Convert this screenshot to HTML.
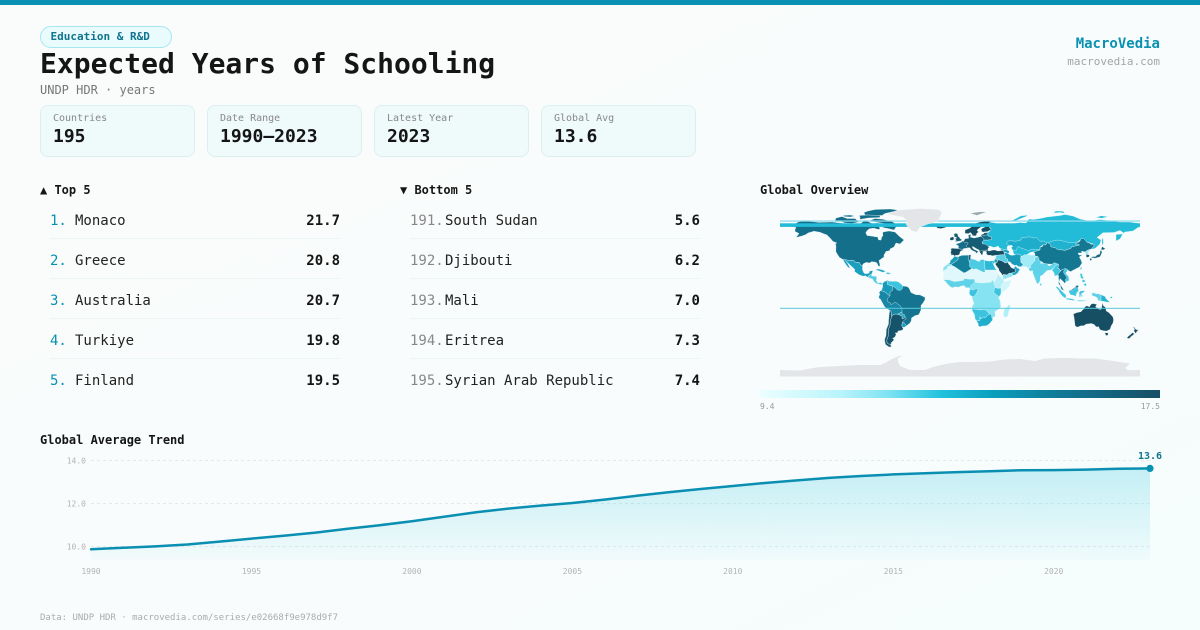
<!DOCTYPE html>
<html><head><meta charset="utf-8">
<style>
*{margin:0;padding:0;box-sizing:border-box}
html,body{width:1200px;height:630px;overflow:hidden}
body{position:relative;background:linear-gradient(155deg,#fafcfc 0%,#f9fcfc 55%,#f5fdfd 100%);font-family:"DejaVu Sans Mono","Liberation Mono",monospace;color:#111}
.a{position:absolute;line-height:1;white-space:pre}
.bar{position:absolute;left:0;top:0;width:1200px;height:5px;background:#0891b2}
.badge{position:absolute;left:40px;top:26px;width:132px;height:22px;border:1px solid #a5e6f1;background:#e9fbfd;border-radius:11px;font-size:11px;font-weight:bold;color:#0e7490;line-height:20px;padding-left:9.5px;white-space:pre}
.card{position:absolute;top:105px;width:155px;height:52px;background:#effafa;border:1px solid #dcefef;border-radius:8px}
.cl{position:absolute;left:12px;top:8.2px;font-size:10px;line-height:1;color:#888;white-space:pre}
.cv{position:absolute;left:12px;top:21.5px;font-size:18px;line-height:1;font-weight:bold;color:#151515;white-space:pre}
.h{font-size:12px;font-weight:bold;color:#151515}
.r{font-size:14px}
.rk{color:#0891b2}
.rg{color:#888}
.nm{color:#222}
.v{font-weight:bold;color:#151515;text-align:right}
.sep{position:absolute;height:1px;background:#edf4f4}
</style></head><body>
<div class="bar"></div>
<div class="badge">Education &amp; R&amp;D</div>
<div class="a" style="left:40px;top:50.3px;font-size:28px;font-weight:bold;color:#151515">Expected Years of Schooling</div>
<div class="a" style="left:40px;top:83.5px;font-size:12px;color:#777">UNDP HDR · years</div>
<div class="a" style="right:40px;top:36.5px;font-size:14px;font-weight:bold;color:#0891b2">MacroVedia</div>
<div class="a" style="right:40px;top:56.4px;font-size:11px;color:#a5a5a5">macrovedia.com</div>

<div class="card" style="left:40px"><div class="cl">Countries</div><div class="cv">195</div></div>
<div class="card" style="left:207px"><div class="cl">Date Range</div><div class="cv">1990–2023</div></div>
<div class="card" style="left:374px"><div class="cl">Latest Year</div><div class="cv">2023</div></div>
<div class="card" style="left:541px"><div class="cl">Global Avg</div><div class="cv">13.6</div></div>

<div class="a h" style="left:40px;top:184.1px">▲ Top 5</div>
<div class="a h" style="left:400px;top:184.1px">▼ Bottom 5</div>
<div class="a h" style="left:760px;top:184.1px">Global Overview</div>

<div class="a r rk" style="left:50px;top:214.2px">1.</div><div class="a r nm" style="left:75px;top:214.2px">Monaco</div><div class="a r v" style="right:860px;top:214.2px">21.7</div>
<div class="a r rk" style="left:50px;top:254.2px">2.</div><div class="a r nm" style="left:75px;top:254.2px">Greece</div><div class="a r v" style="right:860px;top:254.2px">20.8</div>
<div class="a r rk" style="left:50px;top:294.2px">3.</div><div class="a r nm" style="left:75px;top:294.2px">Australia</div><div class="a r v" style="right:860px;top:294.2px">20.7</div>
<div class="a r rk" style="left:50px;top:334.2px">4.</div><div class="a r nm" style="left:75px;top:334.2px">Turkiye</div><div class="a r v" style="right:860px;top:334.2px">19.8</div>
<div class="a r rk" style="left:50px;top:374.2px">5.</div><div class="a r nm" style="left:75px;top:374.2px">Finland</div><div class="a r v" style="right:860px;top:374.2px">19.5</div>
<div class="sep" style="left:50px;width:290px;top:237.5px"></div>
<div class="sep" style="left:50px;width:290px;top:277.5px"></div>
<div class="sep" style="left:50px;width:290px;top:317.5px"></div>
<div class="sep" style="left:50px;width:290px;top:357.5px"></div>

<div class="a r rg" style="left:410px;top:214.2px">191.</div><div class="a r nm" style="left:445px;top:214.2px">South Sudan</div><div class="a r v" style="right:500px;top:214.2px">5.6</div>
<div class="a r rg" style="left:410px;top:254.2px">192.</div><div class="a r nm" style="left:445px;top:254.2px">Djibouti</div><div class="a r v" style="right:500px;top:254.2px">6.2</div>
<div class="a r rg" style="left:410px;top:294.2px">193.</div><div class="a r nm" style="left:445px;top:294.2px">Mali</div><div class="a r v" style="right:500px;top:294.2px">7.0</div>
<div class="a r rg" style="left:410px;top:334.2px">194.</div><div class="a r nm" style="left:445px;top:334.2px">Eritrea</div><div class="a r v" style="right:500px;top:334.2px">7.3</div>
<div class="a r rg" style="left:410px;top:374.2px">195.</div><div class="a r nm" style="left:445px;top:374.2px">Syrian Arab Republic</div><div class="a r v" style="right:500px;top:374.2px">7.4</div>
<div class="sep" style="left:410px;width:290px;top:237.5px"></div>
<div class="sep" style="left:410px;width:290px;top:277.5px"></div>
<div class="sep" style="left:410px;width:290px;top:317.5px"></div>
<div class="sep" style="left:410px;width:290px;top:357.5px"></div>

<div style="position:absolute;left:760px;top:390px;width:400px;height:8px;background:linear-gradient(90deg,#ecfeff 0%,#b9f4fb 20%,#7fe3f3 32%,#22c2de 45%,#0a9fbe 58%,#0e7f9c 72%,#146582 86%,#164e63 100%)"></div>
<div class="a" style="left:760px;top:403.2px;font-size:8px;color:#999">9.4</div>
<div class="a" style="right:40px;top:403.2px;font-size:8px;color:#999">17.5</div>

<div class="a h" style="left:40px;top:433.8px">Global Average Trend</div>
<div class="a" style="left:40px;top:614.4px;font-size:9px;color:#ababab">Data: UNDP HDR · macrovedia.com/series/e02668f9e978d9f7</div>

<svg style="position:absolute;left:0;top:0" width="1200" height="630" viewBox="0 0 1200 630" xmlns="http://www.w3.org/2000/svg">
<defs>
<linearGradient id="fg" x1="0" y1="460" x2="0" y2="560" gradientUnits="userSpaceOnUse">
<stop offset="0" stop-color="#22c3dc" stop-opacity="0.26"/>
<stop offset="1" stop-color="#22c3dc" stop-opacity="0.03"/>
</linearGradient>
</defs>
<!-- MAP -->
<g transform="translate(960,292) scale(1,-1)" stroke="#f2fbfc" stroke-width="0.35" stroke-linejoin="round">
<polygon fill="#e3e5e8" stroke="none" points="-180,-84.5 -180,-78 -160,-78.5 -150,-76.5 -140,-75 -120,-74 -100,-73 -80,-73 -75,-71 -68,-67 -60,-63.5 -58,-64 -62,-66 -62,-70 -60,-74 -50,-78 -35,-78 -27,-75 -15,-72 0,-70 15,-70 30,-69.5 45,-67.5 60,-67 75,-69 85,-66.5 100,-66 110,-66 120,-66.5 135,-66.5 150,-68.5 160,-70 170,-71.5 165,-76 168,-78.3 180,-78 180,-84.5"/>
<!-- North America -->
<polygon fill="#146f8a" points="-168,66 -162,70 -156,71.3 -141,69.6 -128,70 -115,68.5 -100,68 -95,72 -88,68.5 -82,69 -80,63 -94,59 -93,56.5 -82,55 -79,52 -77,60 -71,61 -65,60 -61,56 -56,52 -60,48 -64,49 -66,45 -70,43 -70,41.5 -74,40.5 -76,37 -76,35 -81,31.5 -80,27 -80.5,25.2 -82,26.5 -83,29 -85,30 -89,30.2 -90,29 -94,29.6 -97,28 -97.5,26 -99,26.5 -101,29.7 -104.5,29.6 -106.5,31.8 -111,31.3 -114.8,32.5 -117.1,32.5 -120.6,34.6 -122.5,37.5 -124.2,40.5 -124,46 -124.7,48.4 -123,49 -127,50.5 -130,54 -133,57 -137,58.5 -140,59.7 -146,60.8 -152,59 -154,57.5 -158,56 -162,55 -164,54.5 -161,58.5 -165,60.5 -165,62.5 -164,64.5 -168,65.5"/>
<polygon fill="#f9fcfc" stroke="none" points="-94.5,59 -92.5,57 -88,56.3 -85,55.2 -82.3,55 -82,52.5 -79.5,51.5 -78.8,54 -76.8,56.5 -77.5,59 -78,62.3 -82,62.8 -86,64 -90.5,63.5 -93,61.5"/>
<polygon fill="#146f8a" points="-90,71.5 -85,73.5 -77,72.8 -68,70.5 -62,66.8 -64,65 -66,62 -72,63.5 -78,64.5 -73,66.5 -76,68.5 -82,69.5 -88,70.5"/>
<polygon fill="#146f8a" points="-95,77 -85,76.5 -78,76.5 -75,78.5 -66,80.5 -62,82 -70,83 -85,82.5 -92,81 -96,79.5"/>
<polygon fill="#146f8a" points="-125,71.5 -124,74 -118,75.5 -113,73.5 -105,73.5 -101,70 -108,68.5 -115,69 -119,70.5"/>
<polygon fill="#146f8a" points="-101,76.5 -92,77 -80,76.5 -80,74.5 -92,74 -100,72.5 -100,75"/>
<polygon fill="#146f8a" points="-117,76.5 -110,77 -105,76 -110,75 -116,75.5"/>
<!-- Mexico / Central America / Caribbean -->
<polygon fill="#1a9fbe" points="-117.1,32.5 -114.8,32.5 -111,31.3 -106.5,31.8 -104.5,29.6 -101,29.7 -99,26.5 -97.5,26 -97.5,22 -96,19 -94.5,18.2 -91,18.8 -90.4,21 -87,21.5 -88,18.3 -89,17.8 -91.5,16 -92.2,14.6 -94.5,16.2 -97,15.8 -101,17.3 -105.5,20.5 -105.2,22.5 -108,25.3 -112.1,29 -114.7,31.5 -113.9,30.8 -112,28 -110,24 -109.5,23.2 -112,24.7 -114.5,28 -116.5,31.5"/>
<polygon fill="#55cbe2" points="-92.2,14.6 -91.5,16 -89,17.8 -88,18.3 -88.3,16 -84,15.8 -83.3,15 -83.6,11 -82,9 -79.5,9.6 -77.4,8.7 -78,7.3 -80,7.4 -81.5,8 -83.5,8.4 -85.7,10 -87.5,13 -90,13.8"/>
<polygon fill="#1aa5c4" points="-85,21.8 -82,23.1 -77,22 -74.2,20.2 -77.5,19.8 -82,21.5"/>
<polygon fill="#4bc8e0" points="-74.5,18.4 -72.5,19.9 -68.5,18.5 -71.5,17.6"/>
<!-- South America -->
<polygon fill="#157590" points="-77.4,8.7 -75,10.8 -72,12 -71.5,10.9 -68,10.6 -64,10.7 -61.5,10 -59,8 -57,6 -53,5.5 -51,4 -50,1.8 -49,-0.5 -44.5,-2.6 -40,-2.9 -35,-5.3 -34.9,-7.5 -37,-11 -39,-13.5 -39,-17.8 -40.8,-22 -42,-23 -45,-23.6 -48.5,-26 -48.6,-28.5 -50,-31 -53.4,-33.8 -55,-35 -57.5,-35.5 -56.7,-36.4 -57.6,-38.2 -62,-39 -62.3,-40.7 -65,-41 -63.8,-42.3 -65,-45 -67.5,-46.5 -65.8,-47.8 -69,-51 -68.4,-52.3 -69.5,-52.5 -68.6,-54.9 -71,-55 -74.5,-52.5 -75.5,-48 -74,-43.5 -73.7,-37.5 -71.5,-32 -71.4,-28 -70.3,-18.3 -75,-15.3 -77,-12 -79.5,-7.2 -81.2,-6 -81,-4 -80,-2.5 -80.9,-1 -80,1 -78.9,1.4 -77.5,4 -77.3,7"/>
<polygon fill="#15546b" points="-65,-22 -62.5,-22.2 -58,-24 -54.6,-25.6 -53.6,-26.8 -55.7,-28 -57.6,-30.2 -58.2,-33.5 -57.5,-35.5 -56.7,-36.4 -57.6,-38.2 -62,-39 -62.3,-40.7 -65,-41 -63.8,-42.3 -65,-45 -67.5,-46.5 -65.8,-47.8 -69,-51 -68.4,-52.3 -72,-52 -73.5,-49 -71.8,-44 -71.5,-37 -70,-33 -69.6,-28 -68.3,-24.5 -67,-22.8"/>
<polygon fill="#15566e" points="-70.3,-18.3 -69,-19 -68.3,-24.5 -69.6,-28 -70,-33 -71.5,-37 -71.8,-44 -73.5,-49 -72,-52 -68.4,-52.3 -69.5,-52.5 -68.6,-54.9 -71,-55 -74.5,-52.5 -75.5,-48 -74,-43.5 -73.7,-37.5 -71.5,-32 -71.4,-28"/>
<polygon fill="#3cc4df" points="-72,12 -71.5,10.9 -68,10.6 -64,10.7 -61.5,10 -59,8 -57,6 -58,3 -60,1.5 -63,2.2 -64.5,4 -67.5,6 -70,6.5 -72.5,7.5 -72.8,11"/>
<polygon fill="#1a9ab9" points="-77.4,8.7 -75,10.8 -72.8,11 -72.5,7.5 -70,6.5 -67.5,6 -67,2 -70,0 -70,-4 -72,-2.5 -75,-0.1 -78.9,1.4 -77.5,4 -77.3,7"/>
<polygon fill="#1886a5" points="-78.9,1.4 -75,-0.1 -72,-2.5 -70,-4 -73,-7 -72,-10 -69.5,-11 -69,-13 -65,-10 -60,-13.5 -58,-16.5 -58,-20 -62.5,-22.2 -65,-22 -67,-22.8 -68.3,-24.5 -69,-19 -70.3,-18.3 -75,-15.3 -77,-12 -79.5,-7.2 -81.2,-6 -81,-4 -80,-2.5 -80.9,-1 -80,1"/>
<polygon fill="#2aa8c6" points="-62.5,-22.2 -58,-20 -57.8,-22.1 -55.6,-22.6 -54.6,-25.6 -58,-27 -58,-24"/>
<polygon fill="#1e9fbf" points="-57.6,-30.2 -55.7,-30.9 -53.4,-33.8 -55,-35 -57.5,-35.5 -58.2,-33.5"/>
<!-- Africa -->
<polygon fill="#86e3f2" points="-17.1,21 -16.7,24.5 -14.5,26.2 -13,27.6 -10,29 -9.8,31.2 -6.8,34 -5.9,35.8 -2,35.1 1.5,36.6 8.4,36.9 10.2,37.2 11,36.8 10.3,33.8 11.5,33.1 15.2,32.3 19.1,30.3 20.1,31.7 20,32.2 23,32.6 25,31.6 29,30.9 32,31.3 33.8,31 34.3,31.2 34.9,29.5 33.6,27.9 32.4,29.9 35.5,23.1 36.9,22 37.5,18.6 38.4,18 39.3,15.9 41.2,14.5 43.1,12.7 43.3,11.9 44.6,10.4 47.7,11.1 51.1,11.9 51,10.6 49.5,6.8 48,4.3 46.6,2.9 43.1,0.3 41,-1.7 39.2,-4.7 38.7,-6.5 39.5,-7.1 40.5,-10.8 40.8,-14.7 39.5,-16.7 36.5,-18.6 34.8,-19.8 35.2,-22.1 35.5,-24.1 33,-25.4 32.6,-26.9 32.5,-28.3 31.3,-29.4 30,-31.3 27.5,-33.2 25.8,-33.9 22.6,-34 20,-34.8 18.4,-34 18.2,-31.7 17.3,-30 16.3,-28.6 15.2,-27.1 14.3,-22.1 12.8,-19.7 11.7,-17.3 11.6,-16.7 12.2,-14.5 13.6,-12 13.7,-10.7 12.9,-8.9 12.2,-6.3 12.3,-4.6 11.1,-3.9 9.4,-2.1 9.3,-0.7 9.5,1 9.8,3.1 8.5,4.5 6.7,4.2 5.9,4.3 4.3,6.3 1.9,6.1 -2,4.7 -4.6,5.2 -7.5,4.3 -9,4.8 -11.4,6.8 -13.2,8.9 -15.1,11 -16.6,12.2 -17.2,14.9 -16.5,16.1 -16.1,18.1"/>
<polygon fill="#e0f8fc" points="-17.1,21 -16.1,18.1 -16.5,16.1 -17.2,14.9 -16.6,12.2 -11,12.2 -5.4,10.4 -1,11 3.6,11.7 4,13.5 9.5,12.8 14.5,12.9 15,10 18.6,9.2 23.5,9 26.8,9.5 30.8,9.7 32.8,12.2 34,9.5 36,12.5 37,14.9 38.4,18 37.5,18.6 36.9,22 25,22 25,20 24,19.5 15.9,23.4 14.1,22.5 11.9,23.5 7.5,20.8 5.7,19.6 3.2,19.1 1,21 -4.9,25 -8.7,27 -8.7,25.9 -12,25.9 -13,23"/>
<polygon fill="#1a9cbb" points="-13,27.6 -10,29 -9.8,31.2 -6.8,34 -5.9,35.8 -2,35.1 -1.8,32.5 -5,30 -8.7,27.7"/>
<polygon fill="#147f9b" points="-8.7,27.7 -5,30 -1.8,32.5 -2,35.1 1.5,36.6 8.4,36.9 8.2,33 9.5,30.3 9.9,27 9.3,26 11.9,23.5 7.5,20.8 5.7,19.6 3.2,19.1 3.1,19.7 1,21 -4.9,25 -8.7,27"/>
<polygon fill="#15607a" points="8.4,36.9 10.2,37.2 11,36.8 10.3,33.8 11.5,33.1 10,32 9.5,30.3 8.2,33"/>
<polygon fill="#4ccbe2" points="9.5,30.3 10,32 11.5,33.1 15.2,32.3 19.1,30.3 20.1,31.7 20,32.2 23,32.6 25,31.6 24.7,30 25,22 25,20 24,19.5 15.9,23.4 14.1,22.5 11.9,23.5 9.3,26 9.9,27"/>
<polygon fill="#2bb9d6" points="25,31.6 29,30.9 32,31.3 34.3,31.2 34.9,29.5 33.6,27.9 32.4,29.9 35.5,23.1 36.9,22 25,22 24.7,30"/>
<polygon fill="#5fd2e8" points="-16.6,12.2 -15.1,11 -13.2,8.9 -11.4,6.8 -9,4.8 -7.5,4.3 -4.6,5.2 -2,4.7 1.9,6.1 4.3,6.3 5.9,4.3 6.7,4.2 8.5,4.5 9.8,3.1 11,6.5 13,8 14.3,9.6 15,10 14.5,12.9 9.5,12.8 4,13.5 3.6,11.7 -1,11 -5.4,10.4 -11,12.2"/>
<polygon fill="#3cc4df" points="9.8,3.1 9.5,1 9.3,-0.7 9.4,-2.1 11.1,-3.9 12.3,-4.6 14,-4.5 16,-2 17.5,1 18,3.5 16,3.5 14,2.2 11.3,2.2"/>
<polygon fill="#b5f0f9" points="34,9.5 36,12.5 37,14.9 39.3,15.9 41.2,14.5 43.1,12.7 43.3,11.9 44.6,10.4 42,8 41,4 38,3.6 35.5,5 34.5,7"/>
<polygon fill="#d2f5fa" points="44.6,10.4 47.7,11.1 51.1,11.9 51,10.6 49.5,6.8 48,4.3 46.6,2.9 43.1,0.3 41,-1.7 41,4 42,8"/>
<polygon fill="#3cc4df" points="41,4 41,-1.7 39.2,-4.7 37.5,-3.5 34,-1 34,1.5 35,4.5 38,3.6"/>
<polygon fill="#3cc4df" points="11.7,-17.3 12.8,-19.7 14.3,-22.1 15.2,-27.1 16.3,-28.6 17.8,-28.6 20,-28.4 20,-24.8 20.9,-26.8 23.3,-25.3 25.6,-25.5 27,-23.6 29.4,-22.1 26,-18 25,-17.8 23.2,-17.5 21,-18 13.5,-17"/>
<polygon fill="#20aecd" points="16.3,-28.6 17.3,-30 18.2,-31.7 18.4,-34 20,-34.8 22.6,-34 25.8,-33.9 27.5,-33.2 30,-31.3 31.3,-29.4 32.5,-28.3 32.6,-26.9 31.9,-25.8 31.3,-22.4 29.4,-22.1 27,-23.6 25.6,-25.5 23.3,-25.3 20.9,-26.8 20,-24.8 20,-28.4 17.8,-28.6"/>
<polygon fill="#b0eef8" points="49.3,-12 50.5,-15.5 49.5,-17.5 47.5,-24.5 45.4,-25.5 44,-24.5 43.3,-22 44.4,-16.2 46.3,-15.8 48,-13.5"/>
<!-- Russia / N Asia base -->
<polygon fill="#22bcd8" points="28,70 33,69.5 41,67.5 44,68.5 53,68.5 60,69.5 66,69 69,73 73,72.5 80,73.5 87,75 100,76.5 105,77.5 113,76 120,73 130,71 140,72.5 150,71.5 160,70 170,70 180,68.5 180,65 178,64.5 173,61 165,60 162,58 156,57.5 156,51 160,53 162,56.5 163,59.5 160,61.5 154,59.5 143,59.3 137,54.5 141,52 140,48 135,43.5 131,42.7 130,45 133,48 127.5,49.8 120,52 117,49.5 111,45 104,41.8 97,42.7 90,45.5 87,49 83,47 80,45 80,42 75,40.5 70,39.5 67,37.3 62,35.5 60,37.5 55,38 53.5,37 53,40 50,44 47,45 47.5,42 44,42.5 40,43.5 38,46 36,45 33.5,44.5 30,46 28,45.5 26,47.5 23,48 22,50 24,52 23.5,53.5 27,56 28,59.5 30,61 30,65 29,69"/>
<polygon fill="#1eaecb" points="47,45 50,44 53,42 56,41.3 58,45.5 61,44 62,43.5 66,42.5 68,41 71,42.5 75,42.8 80,42.2 80,45 83,47 85.5,47.1 87,49 83.5,51 80,50.8 77.8,53.3 76.5,54.2 73.5,54 70,55.2 65,54.6 61,53.9 61,52 55,50.6 50.8,51.7 47.5,50.4 46.5,48.5 48.6,47 49,46.4"/>
<polygon fill="#20b3cf" points="87.8,49.3 92,50.8 98,52 102,51.2 106,50.3 108.5,49.3 112,49.5 116,50 116.7,49.8 115.5,48.1 118,48 119.7,47 118,46.7 111.5,45 111,43.7 105,41.6 97,42.7 95.3,44.2 90.9,45.2 90.5,47.6"/>
<polygon fill="#f9fcfc" stroke="none" points="47,45.5 49,46.5 51.5,47 53,45.3 51.3,44.5 52.7,42 53.5,40 54,37.3 51,36.8 49.2,37.6 49.5,40.2 47.5,42.5"/>
<polygon fill="#22bcd8" points="142,54 143,53 143.5,49 142.5,46 142,49 141.8,52"/>
<polygon fill="#22bcd8" points="52,71.5 56,73.5 61,76.2 68,76.8 66,75.5 56,71.5 53,70.7"/>
<polygon fill="#22bcd8" points="93,79 100,79.5 105,78.8 103,80.8 96,81"/>
<polygon fill="#22bcd8" points="136,74.5 142,73.8 148,75.2 141,76.3"/>
<polygon fill="#9aa9b0" points="10,78.5 16,79.8 21,80.3 27,80 22,78.5 17,76.6 14,77.5"/>
<!-- Europe -->
<polygon fill="#155e75" points="-9.5,43 -8,43.7 -1.8,43.4 -1.4,46 -4.5,48 -1.5,48.7 1.5,50 4,51.3 5,53.4 8.5,53.6 8.6,55.5 8.2,56.8 10.5,57.7 10.9,56.4 10.2,55 12.5,54.4 14,54 18,54.8 21,55.7 21.2,57.3 22.5,57.8 24,58.4 23.5,59.2 28,59.5 27.7,57.3 28,56 30.8,55.5 32,52.5 28,52 24,52 22,50 22.6,48.2 26,47.7 28.2,45.5 29.6,45.3 28.8,44.6 28,43.2 28,42 26.1,41.8 26.1,40.6 23.7,40.7 22.7,40.3 23,39 22.5,37.4 21.6,36.9 21,38.3 19.4,40.2 19.4,41.8 16,43.5 13.6,45.1 12.3,45.4 12.6,44.1 14,42.6 16.2,41.7 18.5,40.2 16.5,39 16.1,38 15.7,40 12.8,41.3 11,42.5 10,44 8.9,44.4 7.5,43.8 4,43.5 3.1,43.1 3.2,41.9 0.8,41 0,39.9 -0.3,38.9 0.1,38.7 -0.7,37.6 -2.1,36.7 -4.4,36.7 -5.4,36 -6.5,36.9 -7.5,37.1 -9,36.9 -8.8,38.3 -9.5,39.4 -8.8,41 -9,42.6"/>
<polygon fill="#166f8a" points="24,52 28,52 32,52.5 30.8,55.5 28,56 27.7,57.3 24,56.5 21,55.7 23.5,53.5"/>
<polygon fill="#164e63" points="-9.5,43 -8,43.7 -1.8,43.4 3.2,42.4 3.2,41.9 0.8,41 0,39.9 -0.3,38.9 0.1,38.7 -0.7,37.6 -2.1,36.7 -4.4,36.7 -5.4,36 -6.5,36.9 -7.5,37.1 -9,36.9 -8.8,38.3 -9.5,39.4 -8.8,41 -9,42.6"/>
<polygon fill="#166f8a" points="-4.5,48 -1.5,48.7 1.5,50 2.5,51.1 4.2,49.9 8.2,49 7.6,47.6 6,46.3 7,45 7.5,43.8 4,43.5 3.1,43.1 3.2,42.4 -1.8,43.4 -1.4,46"/>
<polygon fill="#164e63" points="26.1,40.6 23.7,40.7 22.7,40.3 23,39 22.5,37.4 21.6,36.9 21,38.3 19.4,40.2 20.5,41 22,41.7 26.1,41.8"/>
<polygon fill="#164e63" points="5,58 5,62 10,64 15,68.5 20,70 26,71 28.2,71.1 31,70 29,69 29,66.5 30,63.5 31.5,62.9 28,60.5 23,59.9 21.4,60.7 21.6,61.7 21,62.6 22.4,63.8 25,65.1 24.6,65.8 22,65.7 21.2,65 17.8,62.7 17.1,61.3 18.8,60 16.8,58.7 16.5,57 15.9,56.1 14.7,56.2 12.6,56.3 11.8,58 11,58.9 10.4,59.5 8.4,58.3 5.7,58.6"/>
<polygon fill="#155e75" points="-5.7,50 1.4,51.3 1.7,52.7 0.2,53.3 -0.4,54.5 -2,55.9 -2.1,57.4 -3.1,58.6 -5,58.6 -6.2,57.5 -5.6,56.3 -6.1,55.6 -4.8,55 -3,54.1 -4.8,53.5 -4.2,52.3 -5.3,51.8 -3.4,51.4"/>
<polygon fill="#164e63" points="-6,53.2 -6.2,54.6 -7.5,55.2 -10,54.2 -10,51.8 -8,51.6 -6.3,52.2"/>
<polygon fill="#164e63" points="-22.5,63.8 -24,65.5 -22,66.4 -18.7,66.2 -15,66.5 -13.6,65.1 -15,64.4 -18.7,63.4"/>
<!-- Middle East -->
<polygon fill="#1aa5c4" points="40,43.5 44,42.5 47.5,42 49.5,40.5 48.5,38.5 44.8,39.7 43.6,40.3 43.7,41.1 41.6,41.5"/>
<polygon fill="#164e63" points="26.1,40.6 26.6,39.5 26.3,38.2 28,36.7 30.6,36.7 32.5,36.1 35,36.6 36.1,36.7 38,36.8 41,37.1 42.4,37.2 44.8,37.2 44.3,38 44,39.4 44.8,39.7 43.6,40.3 43.7,41.1 41.6,41.5 38,41 35,42 33,42 30,41.2 28.8,41 27.5,42 26.1,41.8"/>
<polygon fill="#5ad0e6" points="35.9,35.4 36.1,36.7 38,36.8 41,37.1 42.4,37.2 44.8,37.2 45.5,35.8 45.4,34 47.5,33 48,31 48.6,30 47.3,30 46,29 44.7,29.2 42,31.1 39,32 38.8,33.4 36.8,32.3 35.7,32.7 35.9,34.7"/>
<polygon fill="#1a9cbb" points="34.2,31.2 34.9,32.8 35.5,34 35.9,34.7 35.7,32.7 36.8,32.3 38.8,33.4 39,32 37,31.5 38,30.5 36.7,29.1 34.9,29.5"/>
<polygon fill="#164e63" points="34.6,28 35.1,28.1 37.1,25.1 38.5,23.7 39.1,21.3 41.2,18.7 42.8,16.3 43.4,17.6 47,17 49,18.6 52,19 55,20 55.7,22 55.2,22.7 51.6,24.2 50.8,24.7 50.2,26.2 49.5,27 48.5,28 48,29.9 46,29 44.7,29.2 42,31.1 39,32 37,31.5 38,30.5 36.7,29.1"/>
<polygon fill="#8fe4f3" points="42.7,15.7 43.2,12.6 45.6,13.3 49.1,14.5 52.2,15.6 53,16.6 52,19 49,18.6 47,17 43.4,17.6 42.8,16.3"/>
<polygon fill="#1aa5c4" points="52,19 53,16.6 55.3,17.2 57.8,19 58.5,20.4 59.8,22.5 58.7,23.6 57.4,23.9 56.4,24.9 56,26.3 54,24.1 52.6,24.2 55.2,22.7 55.7,22 55,20"/>
<polygon fill="#1a9cba" points="44,39.4 48,38.7 49.2,37.6 51,36.8 54,36.9 56.2,38 60,37.5 61,36.5 61,35.6 60.6,33.2 60.9,31.5 61,29.5 62.8,28.2 63.3,26.8 61.8,26.2 61.5,25.1 57.3,25.8 56.9,27 54.7,26.5 52,27.9 50.1,30.2 48.6,30 48,31 47.5,33 45.4,34 45.5,35.8 44.8,37.2"/>
<polygon fill="#a3ecf7" points="61,35.6 62,35.5 64,37.2 67.8,37.2 70,37.5 71.5,36.7 74.5,37 75.5,36 77.8,35.5 76,34.8 74.3,32.9 75.3,32.3 74.4,31 73.8,30.2 71.8,27.9 70,26.5 71,24.4 68.8,23.9 67.4,23.9 66.4,25.4 61.5,25.1 61.8,26.2 63.3,26.8 62.8,28.2 61,29.5 60.9,31.5 60.6,33.2"/>
<!-- China -->
<polygon fill="#147893" points="73.7,39.4 75,40.5 80,42 80.2,45 82.5,45.5 83.2,47.3 85.7,47 87,49 87.8,49.3 90.5,47.6 90.9,45.2 95.3,44.2 97,42.7 105,41.6 111,43.7 111.5,45 118,46.7 119.7,47 118,48 115.5,48.1 116.7,49.8 117.9,49.5 120,51 120.9,53.3 123.6,53.5 127,49.8 130.5,48.5 131,47.6 134.5,48 133,45 131,42.9 130,42.5 128,42 125,40 121.6,40.9 121.7,39 118,39 119,37 122.5,37 119.3,35 121,32 122,29 119.5,25 114,22.2 110.5,20.3 108.5,21.5 106.7,22.8 105.3,23.4 103,22.6 101.7,22.3 101.2,21.4 99.5,22.1 98.6,24 97.6,23.9 98.7,27.5 97.3,28.2 96.2,28.4 94.5,29.3 92,27.7 89,28 88,27.9 86,27.9 84,28.6 81.5,30.4 79,31.5 78.7,32.6 79.2,33 78,35 77.8,35.5 75.5,36 74.5,37 75,37.5 74.9,38.5"/>
<!-- India -->
<polygon fill="#5dd2e8" points="68.8,23.9 71,24.4 70,26.5 71.8,27.9 73.8,30.2 74.4,31 75.3,32.3 74.3,32.9 76,34.8 77.8,35.5 78,35 79.2,33 78.7,32.6 79,31.5 81.5,30.4 80.1,28.8 84,28.6 88,27.9 88.1,26.5 89.7,26.2 92,27.7 94.5,29.3 96.2,28.4 97.3,28.2 97,27 95,26 94.6,24.6 93.3,23 92.3,23.7 92,21.7 91.8,22.5 90.3,21.8 88.5,21.7 87,21.4 84.8,19.3 82,16.5 80.3,15.9 80.2,13 79.8,10.3 77.5,8 76.4,9.5 74.5,14.6 72.8,19 72.6,21.3 70.5,20.8 68.8,22.3"/>
<polygon fill="#3cc6e0" points="79.8,8 80,6 81.8,7.5 81.2,8.8"/>
<!-- SE Asia -->
<polygon fill="#3cc6e0" points="92.3,21.5 92.3,23.7 93.3,23 94.6,24.6 95,26 97,27 97.3,28.2 98.7,27.5 97.6,23.9 98.6,24 99.5,22.1 101.2,21.4 100.1,20.4 97.8,17.6 98.9,16.2 98.5,13.1 99.2,10 98.5,10.8 98.6,11 98,15 97.5,16.8 94.5,16 94.2,18.8"/>
<polygon fill="#157590" points="97.8,17.6 100.1,20.4 101.2,21.4 101.7,22.3 103,22.6 105.3,23.4 106.7,22.8 107.5,21.5 106.5,20 105.7,18.5 108.5,15.5 109.2,11.5 106,10.4 104.7,8.6 103,10.7 100.8,12.7 100,13.5 99.2,9.8 100.5,7.3 101,6.3 99.8,6.5 98.5,8.5 98.5,10.8 99.2,10 98.5,13.1 98.9,16.2"/>
<polygon fill="#3cc6e0" points="106.7,22.8 107.5,21.5 106.5,20 105.7,18.5 108.5,15.5 109.2,11.5 106,10.4 105,12 107,14 105.3,17 104,18.5 103.5,20.5 105.3,23.4"/>
<polygon fill="#157590" points="100.5,7.3 103.5,2.5 104.2,1.3 101.3,2.8 100.3,5.5 101,6.3"/>
<polygon fill="#164e63" points="126,37.8 129.4,37.1 129.3,35.2 126.5,34.5 126.2,36.5"/>
<polygon fill="#9ee7f3" points="124.8,39.7 126,37.8 129.4,37.1 128,39.5 129.7,41 130,42.5 128,42 125,40"/>
<polygon fill="#15627b" points="130.9,33.9 132,35.4 135.7,35.5 136.9,37.1 139.9,38 140,40.2 140.4,41.5 141.5,41.4 142,39.5 140.9,36.9 139.8,35.1 138.2,34.6 136.8,34.3 135.1,33.8 132.4,34.3"/>
<polygon fill="#15627b" points="140,41.5 141.4,43.4 141.9,45.5 145.5,43.3 143,42 141,42.5"/>
<polygon fill="#15627b" points="129.7,33.3 131,34 131.9,32.8 131,31.3 130.2,31.4"/>
<polygon fill="#1aa5c4" points="120.2,22.8 121,25 122,25 121,22"/>
<polygon fill="#3cc6e0" points="120,18.5 122.2,18.5 122.5,16 124,13 121,13.7 120.5,15"/>
<polygon fill="#3cc6e0" points="122,7 126,9 126.5,6.5 125,5.8 123.5,7.7"/>
<polygon fill="#3cc6e0" points="122.5,12.5 124.5,12 125.5,10.5 123.5,9.5 122,10.5"/>
<polygon fill="#3fc5df" points="95.3,5.5 97.5,5.2 100.6,2.1 103.8,-1 106,-3 106,-5.9 104.7,-5.9 102.5,-4.2 101,-2.5 99.2,0.2 98.6,1.8"/>
<polygon fill="#3fc5df" points="105.8,-6 108.5,-6.4 111,-6.5 112.7,-6.9 114.6,-7.8 114.5,-8.7 110.5,-8.1 106.4,-7.4"/>
<polygon fill="#3fc5df" points="109,1.5 109.6,2 111,1.9 113,3.2 115.5,5.4 117,7 119,5.4 118,4.8 117.9,4.1 118.7,1.2 117.5,0.1 116.5,-1.5 116.1,-4 114.9,-4.1 113.7,-3.4 111.7,-3 110.2,-2.9 110,-1.6 109,-0.4"/>
<polygon fill="#157590" points="109.6,2 111,1.9 113,3.2 115.5,5.4 117,7 119,5.4 118,4.8 117.9,4.1 115,4.5 114,2.5 112,1.5 110,1"/>
<polygon fill="#3fc5df" points="119.5,-5.4 120.3,-5.5 120.8,-2.5 121.5,-4.6 122.8,-4.5 122,-3 121.2,-1.7 123.3,-0.6 125,1.4 120.9,1.3 120,0.5 119,-0.7"/>
<polygon fill="#3fc5df" points="115,-8.8 119,-8.4 124,-8.4 127,-8.3 125,-9 120,-9.5 116,-8.9"/>
<polygon fill="#5dd0e6" points="131,-1.3 134,-0.8 136,-1.7 138,-1.7 141,-2.6 141,-9.1 138,-8.4 137.6,-6 135,-4.5 133,-4 131.8,-3.2 132.2,-2.2"/>
<polygon fill="#27b5d3" points="141,-2.6 145,-4.4 146.2,-6.9 147.6,-8 150,-10.2 147,-10.1 143,-9.3 141,-9.1"/>
<polygon fill="#27b5d3" points="150,-5 152,-4.5 152.5,-6 150.5,-6.2"/>
<!-- Oceania -->
<polygon fill="#164e63" points="113.3,-22 114.2,-26.2 115,-33.6 116.7,-35 118,-35 121,-33.8 123.6,-33.9 126,-32.2 131.3,-31.5 134.3,-32.6 136,-34.8 137.7,-35 138.5,-34.5 139.6,-37.1 140.6,-38 143.5,-38.8 146.4,-39.1 150,-37.5 151.3,-33.8 153,-31 153.6,-28 153,-25 150.8,-22.6 148.7,-20.4 146.3,-19 145.4,-15 143.6,-14.1 142.5,-10.7 141.7,-15 141.5,-16.5 140.9,-17.4 139.3,-17.4 137,-16 135.5,-14.8 136.9,-12.4 133.1,-11.5 131,-12.2 129.4,-14.9 127,-13.8 125.2,-14.5 123.5,-17.3 122.2,-18.2 121,-19.7 116.7,-20.6"/>
<polygon fill="#164e63" points="144.7,-40.7 148.3,-40.9 148,-43.2 146,-43.6"/>
<polygon fill="#164e63" points="172.7,-34.5 174.3,-35.3 175.9,-37.5 178.5,-37.7 177,-39.2 176,-41.3 174.6,-41.3 175.2,-40.4 173.8,-39.1 174.6,-37"/>
<polygon fill="#164e63" points="172.6,-40.5 174.2,-41.8 173.3,-43 171.4,-44.2 169.3,-46.6 166.7,-46.2 168.4,-44.1 170.9,-42.2"/>
<!-- wrap artifacts -->
<rect x="-180" y="-71.6" width="360" height="1.3" fill="#8fdcec" stroke="none" transform="scale(1,-1)"/>
</g>
<rect x="780" y="223.3" width="360" height="3.6" fill="#22bcd8"/>
<g transform="translate(960,292) scale(1,-1)" stroke="#f2fbfc" stroke-width="0.35">
<polygon fill="#e3e5e8" points="-73,78 -60,82 -40,83.5 -22,82.5 -18,80 -20,75 -22,70.5 -32,68 -40,65 -43,60 -48,61 -52,65 -54,68 -53,71 -57,75 -66,76.5"/>
</g>
<rect x="780" y="307.8" width="360" height="1" fill="#58c8dc"/>

<!-- TREND CHART -->
<g stroke="#e2eaea" stroke-width="1" stroke-dasharray="3,3">
<line x1="91" y1="460.5" x2="1150" y2="460.5"/>
<line x1="91" y1="503.5" x2="1150" y2="503.5"/>
<line x1="91" y1="546.5" x2="1150" y2="546.5"/>
</g>
<g font-family="DejaVu Sans Mono, Liberation Mono, monospace" font-size="8" fill="#b3b3b3">
<text x="86" y="463.5" text-anchor="end">14.0</text>
<text x="86" y="506.5" text-anchor="end">12.0</text>
<text x="86" y="549.5" text-anchor="end">10.0</text>
<text x="91" y="574" text-anchor="middle">1990</text>
<text x="251.5" y="574" text-anchor="middle">1995</text>
<text x="411.9" y="574" text-anchor="middle">2000</text>
<text x="572.4" y="574" text-anchor="middle">2005</text>
<text x="732.8" y="574" text-anchor="middle">2010</text>
<text x="893.3" y="574" text-anchor="middle">2015</text>
<text x="1053.7" y="574" text-anchor="middle">2020</text>
</g>
<path fill="url(#fg)" d="M91,549.3 L123.1,547.8 L155.2,546.4 L187.3,544.5 L219.4,541.6 L251.5,538.6 L283.5,535.8 L315.6,532.6 L347.7,528.8 L379.8,525.2 L411.9,521.3 L444,516.8 L476.1,512.3 L508.2,508.6 L540.3,505.6 L572.4,503 L604.4,499.6 L636.5,495.8 L668.6,492.2 L700.7,489 L732.8,486 L764.9,483 L797,480.4 L829.1,477.9 L861.2,476 L893.3,474.4 L925.3,473.2 L957.4,472.1 L989.5,471.3 L1021.6,470.2 L1053.7,470.1 L1085.8,469.6 L1117.9,468.7 L1150,468.4 L1150,560 L91,560 Z"/>
<polyline fill="none" stroke="#0a8fb3" stroke-width="2.5" stroke-linejoin="round" stroke-linecap="round" points="91,549.3 123.1,547.8 155.2,546.4 187.3,544.5 219.4,541.6 251.5,538.6 283.5,535.8 315.6,532.6 347.7,528.8 379.8,525.2 411.9,521.3 444,516.8 476.1,512.3 508.2,508.6 540.3,505.6 572.4,503 604.4,499.6 636.5,495.8 668.6,492.2 700.7,489 732.8,486 764.9,483 797,480.4 829.1,477.9 861.2,476 893.3,474.4 925.3,473.2 957.4,472.1 989.5,471.3 1021.6,470.2 1053.7,470.1 1085.8,469.6 1117.9,468.7 1150,468.4"/>
<circle cx="1150" cy="468.4" r="3.6" fill="#0891b2"/>
<text x="1150" y="459" text-anchor="middle" font-family="DejaVu Sans Mono, Liberation Mono, monospace" font-size="10" font-weight="bold" fill="#0e7490">13.6</text>
</svg>
</body></html>
